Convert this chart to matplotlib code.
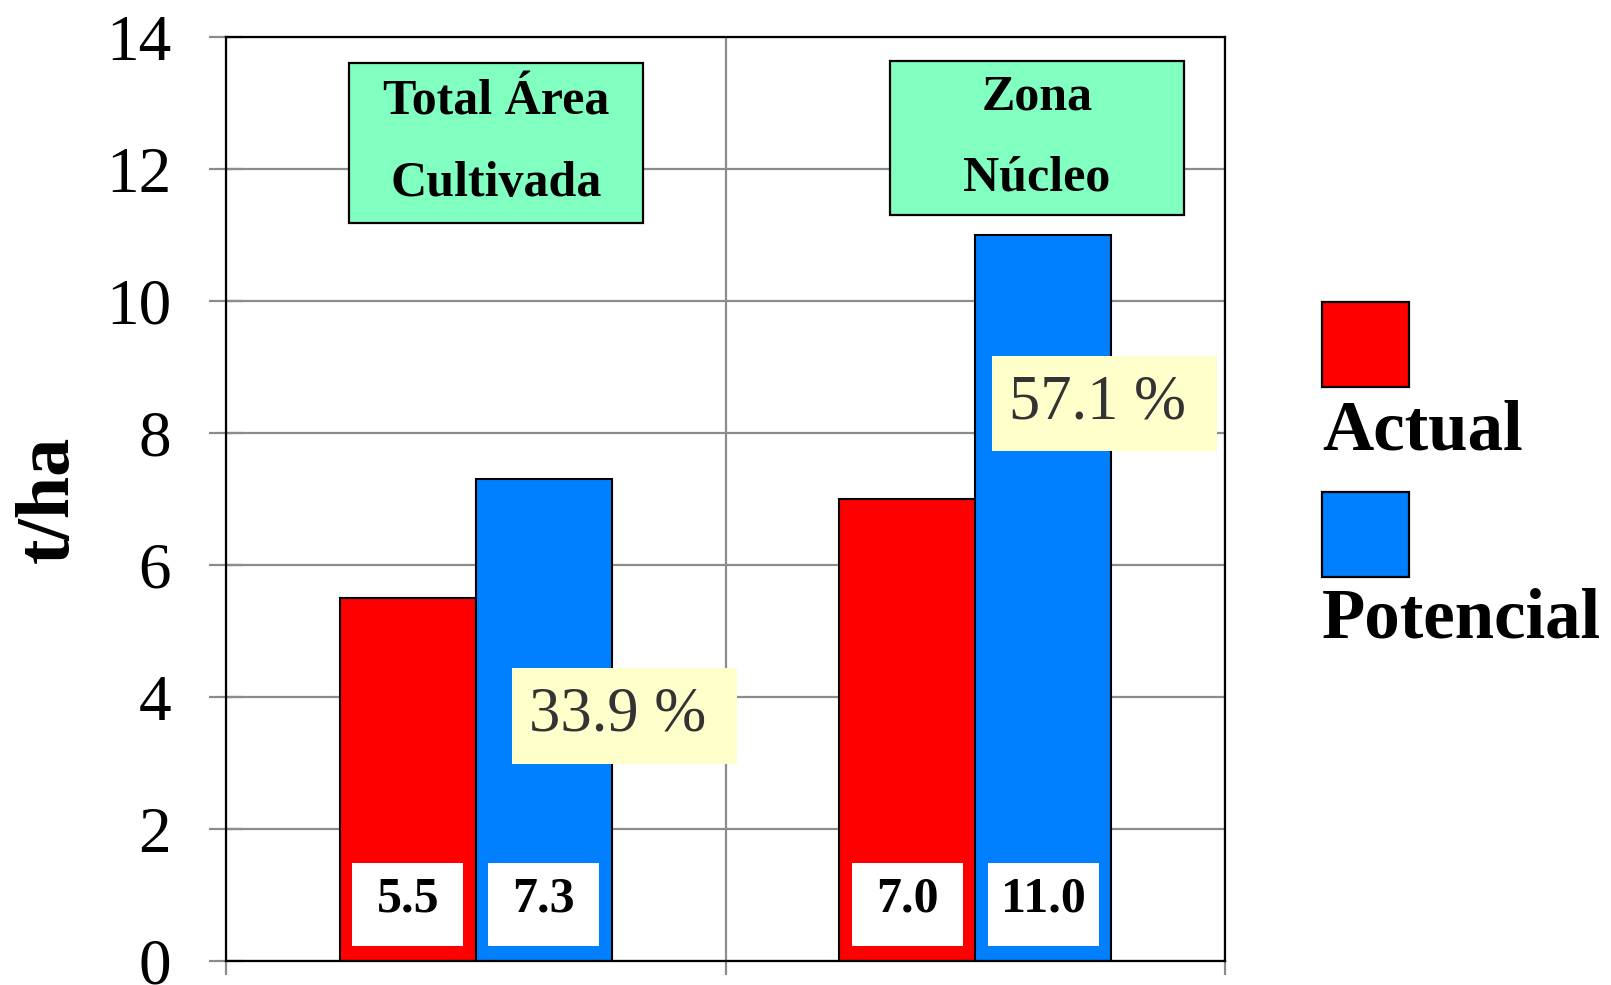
import matplotlib.pyplot as plt
import numpy as np
from matplotlib.patches import Rectangle

plt.rcParams['font.family'] = ['Liberation Serif', 'DejaVu Serif']

# Rendimientos (t/ha) y brecha porcentual
zonas = ['Total Área\nCultivada', 'Zona\nNúcleo']
actual = [5.5, 7.0]
potencial = [7.3, 11.0]
brecha = [33.9, 57.1]
series = ['Actual', 'Potencial']
colores = ['#ff0000', '#0080ff']
yticks = [0, 2, 4, 6, 8, 10, 12, 14]

fig = plt.figure(figsize=(16.11, 9.85), dpi=100)
ax = fig.add_axes([0.1403, 0.0244, 0.6201, 0.938])

x = np.arange(len(zonas)) + 0.5
w = 0.272
gris = '#8c8c8c'

ax.bar(x - w/2, actual, w, color=colores[0], edgecolor='black', linewidth=1.5, zorder=3)
ax.bar(x + w/2, potencial, w, color=colores[1], edgecolor='black', linewidth=1.5, zorder=3)

ax.set_xlim(0, 2)
ax.set_ylim(0, 14)
ax.set_yticks(yticks)
ax.set_xticks([0, 1, 2])
ax.set_xticklabels([])
ax.grid(True, color=gris, linewidth=1.6, zorder=0)
ax.tick_params(axis='y', direction='inout', length=25, width=1.6, color=gris,
               pad=27, labelsize=47)
ax.tick_params(axis='x', direction='out', length=10, width=1.6, color=gris)
for s in ax.spines.values():
    s.set_linewidth(1.6)
    s.set_zorder(4)

ax.set_ylabel('t/ha', fontsize=55, fontweight='bold')
ax.yaxis.set_label_coords(-0.142, 0.5)

# etiquetas de valor en recuadros blancos
for xi, va, vp in zip(x, actual, potencial):
    for xc, v in ((xi - w/2, va), (xi + w/2, vp)):
        ax.add_patch(Rectangle((xc - w/2 + 0.025, 0.22), w - 0.05, 1.26,
                               facecolor='white', edgecolor='none', zorder=5))
        ax.text(xc, 0.93, f'{v:.1f}', ha='center', va='center', fontsize=36,
                fontweight='bold', zorder=6)

# títulos de zona en recuadros verdes
cajas = [(0.247, 11.18, 0.588, 2.42), (1.329, 11.31, 0.589, 2.32)]
for (bx, by, bw, bh), nombre in zip(cajas, zonas):
    ax.add_patch(Rectangle((bx, by), bw, bh, facecolor='#80ffc0',
                           edgecolor='black', linewidth=1.6, zorder=5))
    ax.text(bx + bw/2, by + bh/2, nombre, ha='center', va='center', fontsize=36,
            fontweight='bold', linespacing=2.0, zorder=6)

# brecha entre rendimiento actual y potencial
cajas_b = [(0.572, 2.99, 0.451, 1.45), (1.533, 7.72, 0.451, 1.45)]
for (bx, by, bw, bh), b in zip(cajas_b, brecha):
    ax.add_patch(Rectangle((bx, by), bw, bh, facecolor='#ffffcc',
                           edgecolor='none', zorder=5))
    ax.text(bx + bw/2 - 0.013, by + bh/2, f'{b:.1f} %', ha='center', va='center',
            fontsize=45, color='#333333', zorder=6)

# leyenda
ley_y = [0.607, 0.4142]
txt_y = [0.544, 0.353]
for c, nombre, py, ty in zip(colores, series, ley_y, txt_y):
    fig.add_artist(Rectangle((0.8207, py), 0.054, 0.0863, facecolor=c,
                             edgecolor='black', linewidth=1.6,
                             transform=fig.transFigure))
    fig.text(0.8207, ty, nombre, ha='left', va='baseline', fontsize=51,
             fontweight='bold')

fig.savefig('out.png', dpi=100)
